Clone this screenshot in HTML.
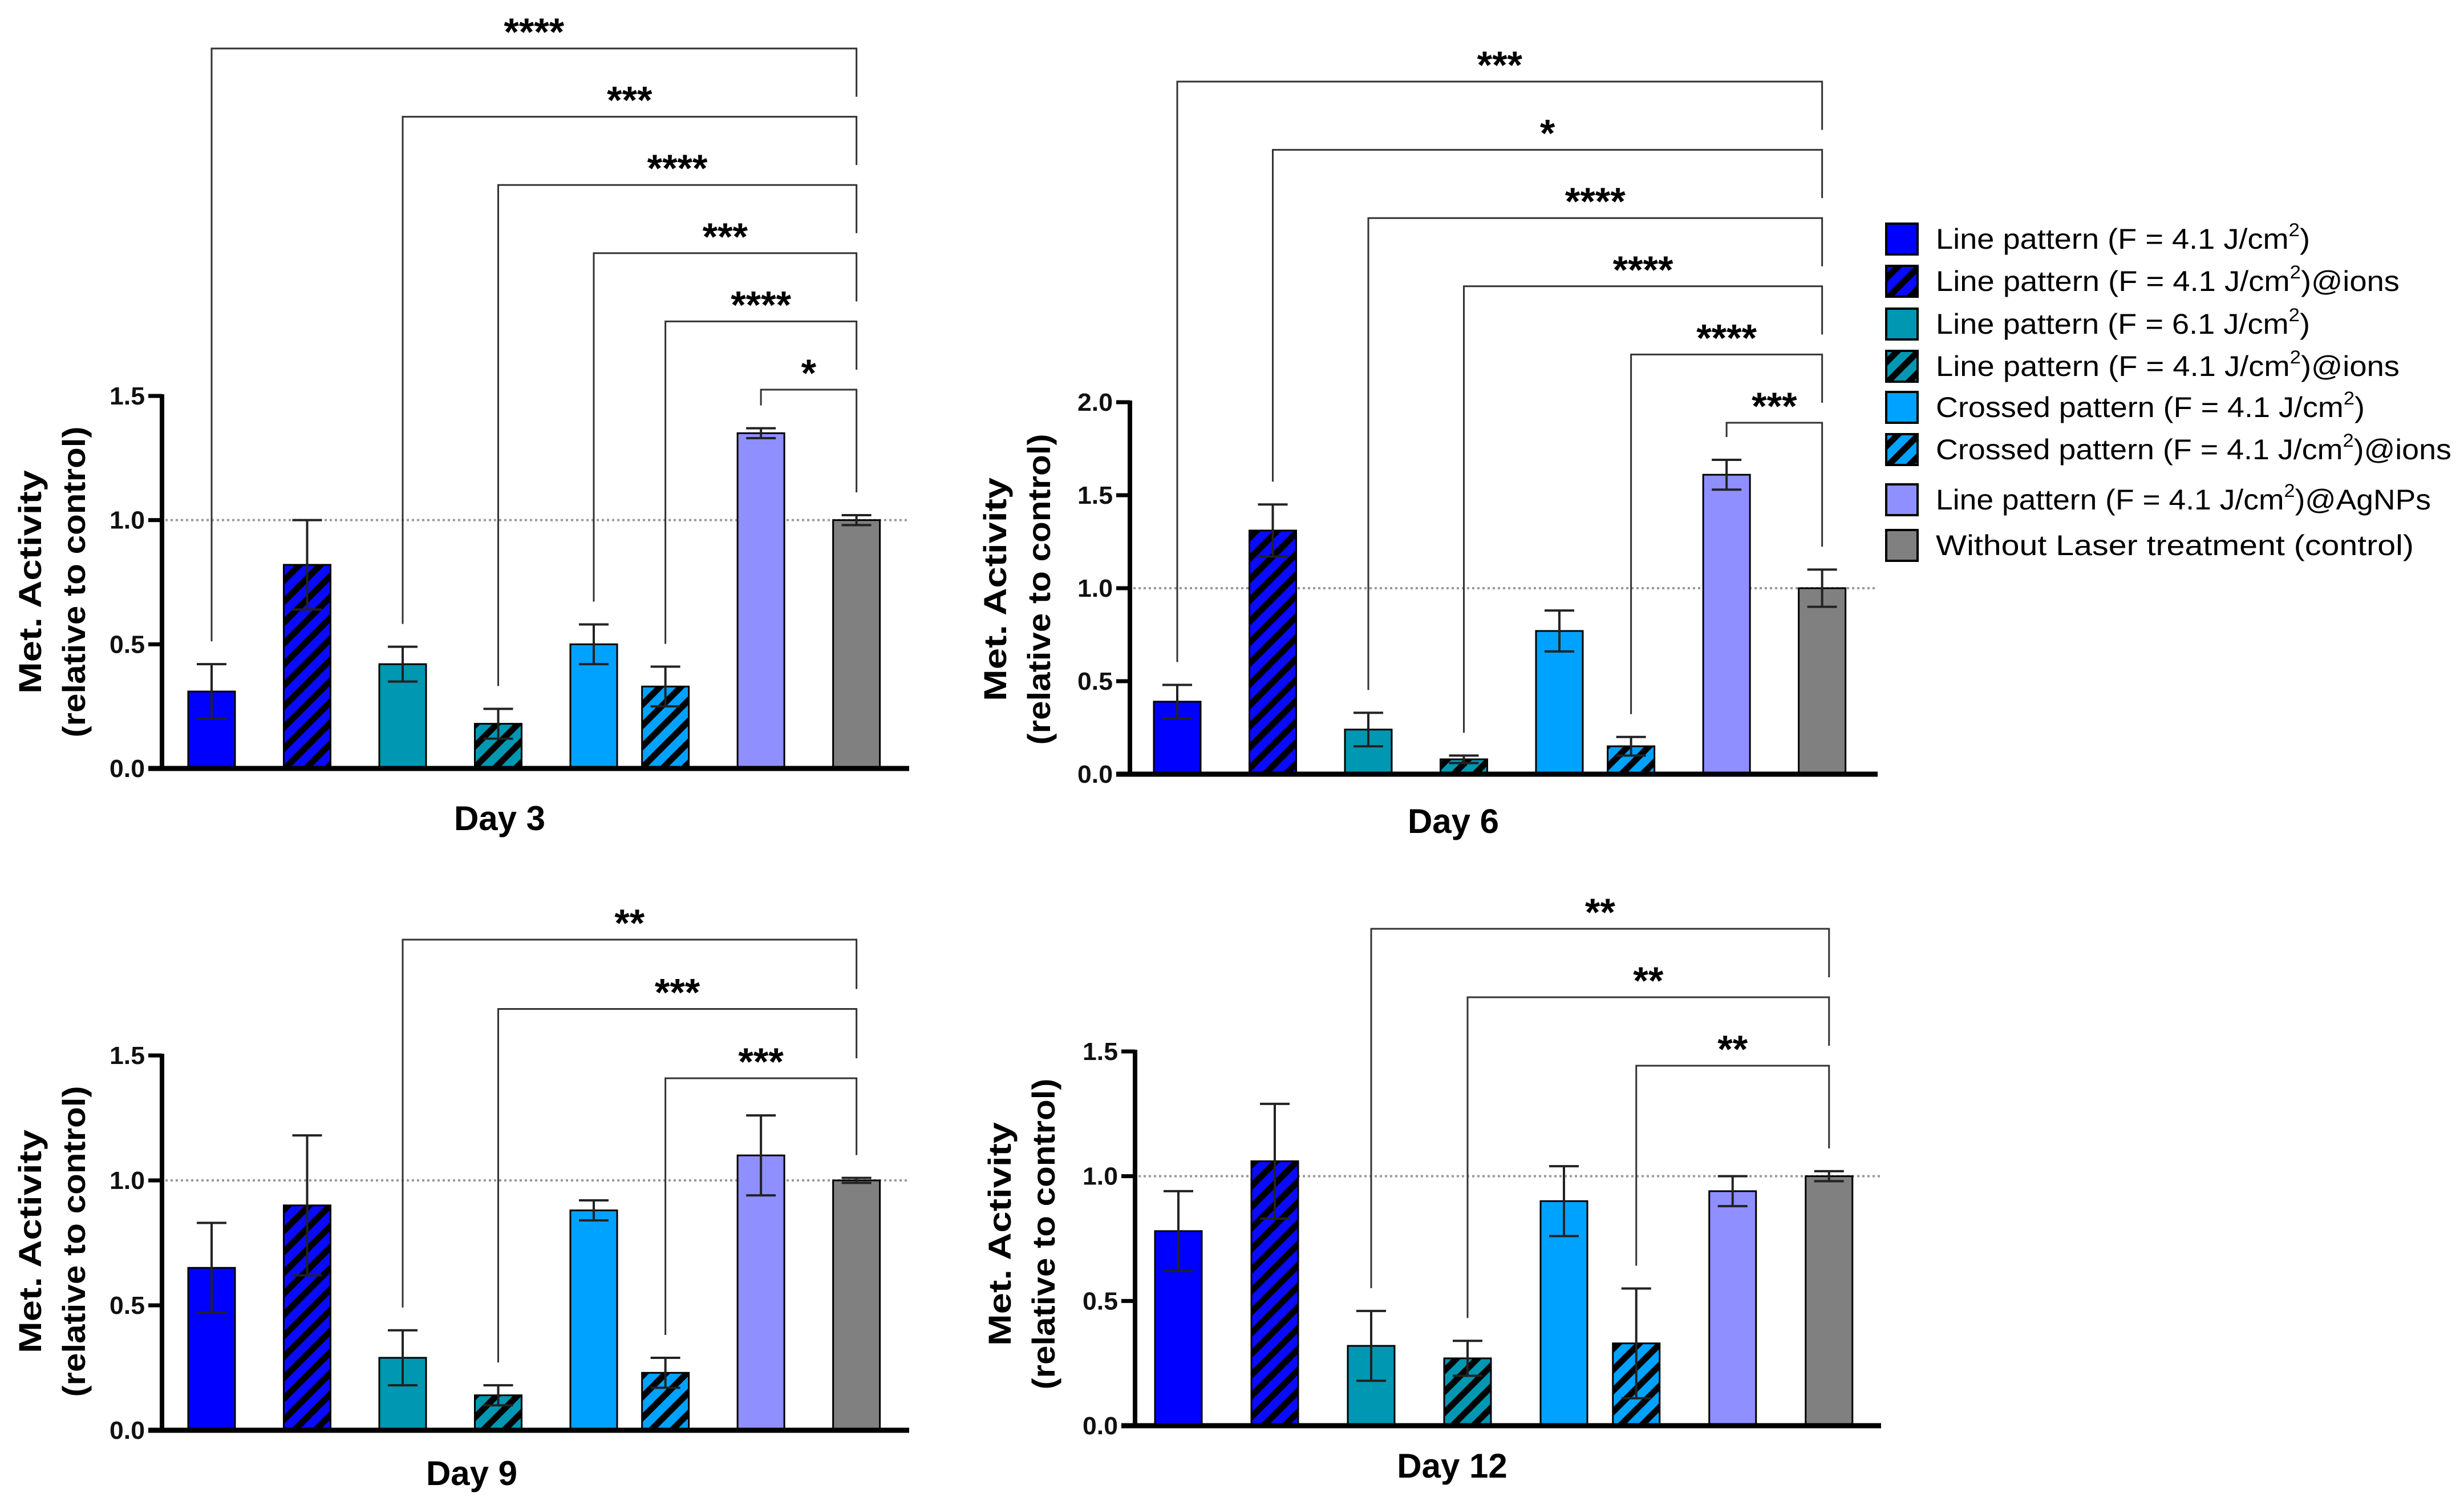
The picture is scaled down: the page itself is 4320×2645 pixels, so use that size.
<!DOCTYPE html>
<html><head><meta charset="utf-8"><style>
html,body{margin:0;padding:0;background:#fff}
svg{display:block}
text{font-family:"Liberation Sans",sans-serif}
</style></head><body>
<svg id="fig" xmlns="http://www.w3.org/2000/svg" width="4320" height="2645" viewBox="0 0 4320 2645">
<defs>
<pattern id="h-blue" patternUnits="userSpaceOnUse" width="26" height="26" patternTransform="rotate(45)"><rect width="26" height="26" fill="#0a0aff"/><rect width="11" height="26" fill="#000"/></pattern>
<pattern id="h-teal" patternUnits="userSpaceOnUse" width="26" height="26" patternTransform="rotate(45)"><rect width="26" height="26" fill="#0097b2"/><rect width="11" height="26" fill="#000"/></pattern>
<pattern id="h-sky" patternUnits="userSpaceOnUse" width="26" height="26" patternTransform="rotate(45)"><rect width="26" height="26" fill="#00a2ff"/><rect width="11" height="26" fill="#000"/></pattern>
</defs>
<g id="legend"></g>
</svg>
<script>
const categories = ["Line pattern (F = 4.1 J/cm2)","Line pattern (F = 4.1 J/cm2)@ions","Line pattern (F = 6.1 J/cm2)","Line pattern (F = 4.1 J/cm2)@ions","Crossed pattern (F = 4.1 J/cm2)","Crossed pattern (F = 4.1 J/cm2)@ions","Line pattern (F = 4.1 J/cm2)@AgNPs","Without Laser treatment (control)"];
const day3Values = [0.31,0.82,0.42,0.18,0.50,0.33,1.35,1.00];
const day3Errors = [0.11,0.18,0.07,0.06,0.08,0.08,0.02,0.02];
const day6Values = [0.39,1.31,0.24,0.08,0.77,0.15,1.61,1.00];
const day6Errors = [0.09,0.14,0.09,0.02,0.11,0.05,0.08,0.10];
const day9Values = [0.65,0.90,0.29,0.14,0.88,0.23,1.10,1.00];
const day9Errors = [0.18,0.28,0.11,0.04,0.04,0.06,0.16,0.01];
const day12Values = [0.78,1.06,0.32,0.27,0.90,0.33,0.94,1.00];
const day12Errors = [0.16,0.23,0.14,0.07,0.14,0.22,0.06,0.02];
const day3SigFrom = [0,2,3,4,5,6];
const day3SigLabels = ["****","***","****","***","****","*"];
const day6SigFrom = [0,1,2,3,5,6];
const day6SigLabels = ["***","*","****","****","****","***"];
const day9SigFrom = [2,3,5];
const day9SigLabels = ["**","***","***"];
const day12SigFrom = [2,3,5];
const day12SigLabels = ["**","**","**"];
const ticks15 = ["0.0","0.5","1.0","1.5"];
const ticks20 = ["0.0","0.5","1.0","1.5","2.0"];

const NS="http://www.w3.org/2000/svg";
const svg=document.getElementById('fig');
const fills=["#0000ff","url(#h-blue)","#0097b2","url(#h-teal)","#00a2ff","url(#h-sky)","#8f8fff","#808080"];
const slot=[0,1,2,3,4,4.75,5.75,6.75];
function mk(tag,attrs,parent){const e=document.createElementNS(NS,tag);for(const k in attrs)e.setAttribute(k,attrs[k]);(parent||svg).appendChild(e);return e;}

function panel(p){
  const g=mk('g',{});
  
  
  const ymax=p.ticks.length-1;
  const y=v=>p.y0-(p.y0-p.yTop)*v/(ymax*0.5);
  const x=i=>p.x1+slot[i]*p.dx;
  const dl=mk('line',{x1:p.ax+6,x2:p.xEnd,y1:y(1),y2:y(1),stroke:'#999','stroke-width':4,'stroke-dasharray':'4 5'},g);
  
  
  p.vals.forEach((v,i)=>{
    const r=mk('rect',{x:x(i)-41,y:y(v),width:82,height:p.y0-y(v),fill:fills[i],stroke:'#000','stroke-width':3},g);
    
    
    const e=p.errs[i];
    const eg=mk('g',{stroke:'#222','stroke-width':4},g);
    
    
    mk('line',{x1:x(i),x2:x(i),y1:y(v+e),y2:y(v-e)},eg);
    mk('line',{x1:x(i)-26,x2:x(i)+26,y1:y(v+e),y2:y(v+e)},eg);
    mk('line',{x1:x(i)-26,x2:x(i)+26,y1:y(v-e),y2:y(v-e)},eg);
  });
  const ya=mk('line',{x1:p.ax,x2:p.ax,y1:p.yTop-3,y2:p.y0+4,stroke:'#000','stroke-width':8},g);
  
  
  const xa=mk('line',{x1:p.ax-24,x2:p.xEnd,y1:p.y0,y2:p.y0,stroke:'#000','stroke-width':9},g);
  
  
  p.ticks.forEach((t,k)=>{
    const yy=y(k*0.5);
    mk('line',{x1:p.ax-24,x2:p.ax,y1:yy,y2:yy,stroke:'#000','stroke-width':7},g);
    const tl=mk('text',{x:p.ax-30,y:yy+15,'text-anchor':'end','font-size':44,'font-weight':'bold',fill:'#111',textLength:62,lengthAdjust:'spacingAndGlyphs'},g);
    tl.textContent=t;
    
    
  });
  const tt=mk('text',{transform:`translate(${p.tx},${p.ty}) rotate(-90)`,'text-anchor':'middle','font-size':56,'font-weight':'bold',fill:'#000'},g);
  
  
  const t1=mk('tspan',{x:0,y:0,textLength:392,lengthAdjust:'spacingAndGlyphs'},tt);t1.textContent='Met. Activity';
  const t2=mk('tspan',{x:0,y:77,textLength:545,lengthAdjust:'spacingAndGlyphs'},tt);t2.textContent='(relative to control)';
  const xl=mk('text',{x:p.lx,y:p.ly,'text-anchor':'middle','font-size':60,'font-weight':'bold',fill:'#000'},g);
  xl.textContent=p.label;
  
  
  const n=p.sigFrom.length, xc=x(7);
  p.sigFrom.forEach((fi,k)=>{
    const top=p.bTop+k*p.bStep;
    const nextTop = k<n-1 ? p.bTop+(k+1)*p.bStep-35 : y(p.vals[7]+p.errs[7])-40;
    const leftEnd=y(p.vals[fi]+p.errs[fi])-40;
    const bg=mk('g',{},g);
    
    
    mk('polyline',{points:`${x(fi)},${leftEnd} ${x(fi)},${top} ${xc},${top} ${xc},${nextTop}`,fill:'none',stroke:'#333','stroke-width':3},bg);
    const st=mk('text',{x:(x(fi)+xc)/2,y:top-6,'text-anchor':'middle','font-size':68,'font-weight':'bold',fill:'#000'},bg);
    st.textContent=p.sigLabels[k];
  });
}

panel({id:'day3',vals:day3Values,errs:day3Errors,sigFrom:day3SigFrom,sigLabels:day3SigLabels,ticks:ticks15,
  ax:284,y0:1347,yTop:694,x1:371,dx:167.5,xEnd:1594,tx:72,ty:1020,lx:876,ly:1455,label:'Day 3',bTop:85,bStep:119.6});
panel({id:'day6',vals:day6Values,errs:day6Errors,sigFrom:day6SigFrom,sigLabels:day6SigLabels,ticks:ticks20,
  ax:1981,y0:1357,yTop:705,x1:2064,dx:167.5,xEnd:3292,tx:1764,ty:1033,lx:2548,ly:1460,label:'Day 6',bTop:143,bStep:119.6});
panel({id:'day9',vals:day9Values,errs:day9Errors,sigFrom:day9SigFrom,sigLabels:day9SigLabels,ticks:ticks15,
  ax:284,y0:2507,yTop:1850,x1:371,dx:167.5,xEnd:1594,tx:72,ty:2176,lx:827,ly:2603,label:'Day 9',bTop:1647,bStep:121.5});
panel({id:'day12',vals:day12Values,errs:day12Errors,sigFrom:day12SigFrom,sigLabels:day12SigLabels,ticks:ticks15,
  ax:1990,y0:2499,yTop:1843,x1:2066,dx:169,xEnd:3298,tx:1772,ty:2163,lx:2546,ly:2590,label:'Day 12',bTop:1628,bStep:120});

const leg=document.getElementById('legend');
const legY=[419,493,568,642,714,788,876,956];
const legW=[656,813,656,813,752,904,868,838];
const legParts=[["Line pattern (F = 4.1 J/cm",")"],["Line pattern (F = 4.1 J/cm",")@ions"],["Line pattern (F = 6.1 J/cm",")"],["Line pattern (F = 4.1 J/cm",")@ions"],["Crossed pattern (F = 4.1 J/cm",")"],["Crossed pattern (F = 4.1 J/cm",")@ions"],["Line pattern (F = 4.1 J/cm",")@AgNPs"],["Without Laser treatment (control)",""]];
legParts.forEach((pp,i)=>{
  const eg=mk('g',{},leg);
  
  
  mk('rect',{x:3307,y:legY[i]-27,width:55,height:54,fill:fills[i],stroke:'#000','stroke-width':4},eg);
  const t=mk('text',{x:3394,y:legY[i]+17,'font-size':50,fill:'#000',textLength:legW[i],lengthAdjust:'spacingAndGlyphs'},eg);
  const a=mk('tspan',{},t);a.textContent=pp[0];
  if(i<7){const s=mk('tspan',{dy:-22,'font-size':32},t);s.textContent='2';
    const b=mk('tspan',{dy:22},t);b.textContent=pp[1];}
});
</script>
</body></html>
